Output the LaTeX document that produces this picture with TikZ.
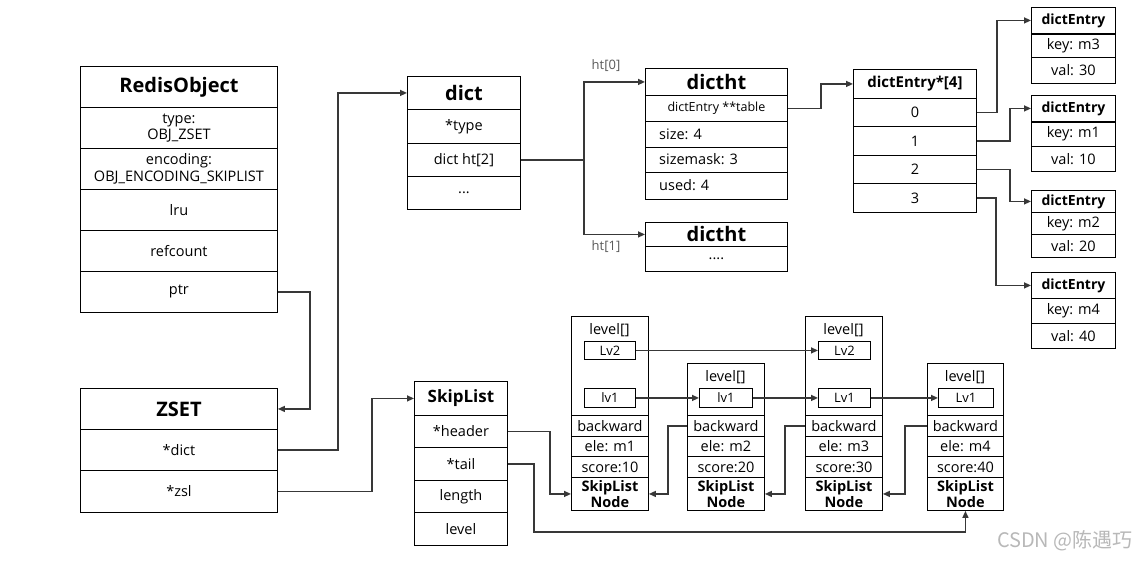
\documentclass[tikz,border=0pt]{standalone}
\usepackage{fontspec}
\setmainfont{Open Sans}
\newfontfamily\cjk{Noto Sans CJK SC}
\usetikzlibrary{arrows.meta}
\newcommand\fs[2]{\fontsize{#1}{#2}\selectfont}
\newcommand\cellnode[7][]{%
  \pgfmathsetmacro\cw{#5-#3}\pgfmathsetmacro\ch{#6-#4}%
  \node[cell,minimum width=\cw pt,minimum height=\ch pt,anchor=north west,#1] (#2) at (#3,#4) {#7};}
\begin{document}
\begin{tikzpicture}[x=1pt,y=-1pt,
  cell/.style={draw=black,line width=0.9pt,inner sep=0pt,font=\fs{14.5}{16.5},align=center},
  title/.style={font=\fs{20}{22}\bfseries},
  conn/.style={draw=black!78,line width=1.4pt,-{Triangle[length=7pt,width=6pt]}},
  wire/.style={draw=black!78,line width=1.4pt},
  lbl/.style={inner sep=0pt,font=\fs{14.5}{16}},
  grey/.style={inner sep=0pt,font=\fs{13}{15},text=black!65}]
\useasboundingbox (0,0) rectangle (1136,561);
% RedisObject
\cellnode[title]{rot}{80}{66}{277}{107}{RedisObject}
\cellnode{rotype}{80}{107}{277}{148}{type:\\OBJ\_ZSET}
\cellnode{roenc}{80}{148}{277}{189}{encoding:\\OBJ\_ENCODING\_SKIPLIST}
\cellnode{rolru}{80}{189}{277}{230}{lru}
\cellnode{roref}{80}{230}{277}{271}{refcount}
\cellnode{roptr}{80}{271}{277}{312}{ptr}
% ZSET
\cellnode[title]{zst}{80}{388}{277}{429}{ZSET}
\cellnode{zsdict}{80}{429}{277}{470}{*dict}
\cellnode{zszsl}{80}{470}{277}{512}{*zsl}
% dict
\cellnode[title]{dt}{407}{76}{520}{109}{dict}
\cellnode{dtype}{407}{109}{520}{143}{*type}
\cellnode{dht}{407}{143}{520}{176}{dict ht[2]}
\cellnode{ddots}{407}{176}{520}{209}{...}
% dictht 0
\cellnode[title]{hzt}{645}{68}{787}{95}{dictht}
\cellnode[font=\fs{12.5}{14}]{hztab}{645}{95}{787}{121}{dictEntry **table}
\cellnode{hzsize}{645}{121}{787}{147}{}
\cellnode{hzmask}{645}{147}{787}{172}{}
\cellnode{hzused}{645}{172}{787}{199}{}
\node[lbl,anchor=west] (tsize) at (659,134) {size: 4};
\node[lbl,anchor=west] (tmask) at (659,159.5) {sizemask: 3};
\node[lbl,anchor=west] (tused) at (659,185.5) {used: 4};
% dictht 1
\cellnode[title]{hot}{645}{222}{787}{246}{dictht}
\cellnode{hodots}{645}{246}{787}{271}{....}
\node[grey] (lh0) at (606,66) {ht[0]};
\node[grey] (lh1) at (606,247) {ht[1]};
% dictEntry*[4]
\cellnode[font=\fs{15}{17}\bfseries]{at}{853}{69}{976}{98}{dictEntry*[4]}
\cellnode{azero}{853}{98}{976}{126}{0}
\cellnode{aone}{853}{126}{976}{155}{1}
\cellnode{atwo}{853}{155}{976}{183}{2}
\cellnode{athree}{853}{183}{976}{212}{3}
% dictEntry boxes
\tikzset{et/.style={font=\fs{14}{16}\bfseries}}
\cellnode[et]{ea}{1031}{7}{1115}{33}{dictEntry}
\cellnode{eak}{1031}{33}{1115}{57}{key: m3}
\cellnode{eav}{1031}{57}{1115}{83}{val: 30}
\cellnode[et]{eb}{1031}{95}{1115}{121}{dictEntry}
\cellnode{ebk}{1031}{121}{1115}{146}{key: m1}
\cellnode{ebv}{1031}{146}{1115}{171}{val: 10}
\cellnode[et]{ec}{1031}{190}{1115}{212}{dictEntry}
\cellnode{eck}{1031}{212}{1115}{234}{key: m2}
\cellnode{ecv}{1031}{234}{1115}{257}{val: 20}
\cellnode[et]{ed}{1031}{272}{1115}{298}{dictEntry}
\cellnode{edk}{1031}{298}{1115}{323}{key: m4}
\cellnode{edv}{1031}{323}{1115}{348}{val: 40}
\draw[line width=1.8pt] (ea.south west) -- (ea.south east);
\draw[line width=1.8pt] (eb.south west) -- (eb.south east);
% SkipList
\cellnode[font=\fs{17}{19}\bfseries]{st}{414}{381}{507}{415}{SkipList}
\cellnode{shdr}{414}{415}{507}{447}{*header}
\cellnode{stail}{414}{447}{507}{480}{*tail}
\cellnode{slen}{414}{480}{507}{512}{length}
\cellnode{slvl}{414}{512}{507}{545}{level}
% skiplist nodes
\tikzset{nm/.style={font=\fs{14.5}{16}\bfseries},lv/.style={font=\fs{13}{15}}}
% node 1
\cellnode{nalvl}{571}{316}{648}{415}{}
\cellnode{nabw}{571}{415}{648}{436}{backward}
\cellnode{naele}{571}{436}{648}{456}{ele: m1}
\cellnode{nasc}{571}{456}{648}{477}{score:10}
\cellnode[nm]{naname}{571}{477}{648}{510}{SkipList\\Node}
\node[lbl] (nalt) at (609.5,330) {level[]};
\cellnode[lv]{natwo}{584}{341}{635}{359}{Lv2}
\cellnode[lv]{naone}{584}{388}{635}{407}{lv1}
% node 2
\cellnode{nblvl}{687}{363}{764}{415}{}
\cellnode{nbbw}{687}{415}{764}{436}{backward}
\cellnode{nbele}{687}{436}{764}{456}{ele: m2}
\cellnode{nbsc}{687}{456}{764}{477}{score:20}
\cellnode[nm]{nbname}{687}{477}{764}{510}{SkipList\\Node}
\node[lbl] (nblt) at (725.5,377) {level[]};
\cellnode[lv]{nbone}{699}{388}{752}{407}{lv1}
% node 3
\cellnode{nclvl}{805}{316}{882}{415}{}
\cellnode{ncbw}{805}{415}{882}{436}{backward}
\cellnode{ncele}{805}{436}{882}{456}{ele: m3}
\cellnode{ncsc}{805}{456}{882}{477}{score:30}
\cellnode[nm]{ncname}{805}{477}{882}{510}{SkipList\\Node}
\node[lbl] (nclt) at (843.5,330) {level[]};
\cellnode[lv]{nctwo}{818}{341}{870}{359}{Lv2}
\cellnode[lv]{ncone}{818}{388}{870}{407}{Lv1}
% node 4
\cellnode{ndlvl}{927}{363}{1003}{415}{}
\cellnode{ndbw}{927}{415}{1003}{436}{backward}
\cellnode{ndele}{927}{436}{1003}{456}{ele: m4}
\cellnode{ndsc}{927}{456}{1003}{477}{score:40}
\cellnode[nm]{ndname}{927}{477}{1003}{510}{SkipList\\Node}
\node[lbl] (ndlt) at (965,377) {level[]};
\cellnode[lv]{ndone}{938}{388}{993}{407}{Lv1}
% connectors
\draw[conn] (roptr.east) -- ++(32,0) |- (zst.east);
\draw[conn] (zsdict.east) -- ++(60,0) |- (dt.west);
\draw[conn] (zszsl.east) -- ++(94,0) |- (st.west);
\draw[wire] (dht.east) -- ++(63,0) coordinate (br);
\draw[conn] (br) |- (hzt.west);
\draw[conn] (br) |- (hot.west);
\draw[conn] (hztab.east) -- ++(33,0) |- (at.west);
\draw[conn] (azero.east) -- ++(20,0) |- (ea.west);
\draw[conn] (aone.east) -- ++(33,0) |- (eb.west);
\draw[conn] (atwo.east) -- ++(33,0) |- (ec.west);
\draw[conn] (athree.east) -- ++(19,0) |- (ed.west);
\draw[conn] (shdr.east) -- ++(42,0) |- (naname.west);
\draw[conn] (stail.east) -- ++(26,0) -- ++(0,68) -| (ndname.south);
\draw[conn] (natwo.east) -- (nctwo.west);
\draw[conn] (naone.east) -- (nbone.west);
\draw[conn] (nbone.east) -- (ncone.west);
\draw[conn] (ncone.east) -- (ndone.west);
\draw[conn] (nbbw.west) -- ++(-19,0) |- (naname.east);
\draw[conn] (ncbw.west) -- ++(-20,0) |- (nbname.east);
\draw[conn] (ndbw.west) -- ++(-22,0) |- (ncname.east);
% watermark
\node[inner sep=0pt,anchor=east,font=\cjk\fs{20}{22},text=black!28] (wm) at (1133,541) {CSDN @陈遇巧};
\end{tikzpicture}
\end{document}
